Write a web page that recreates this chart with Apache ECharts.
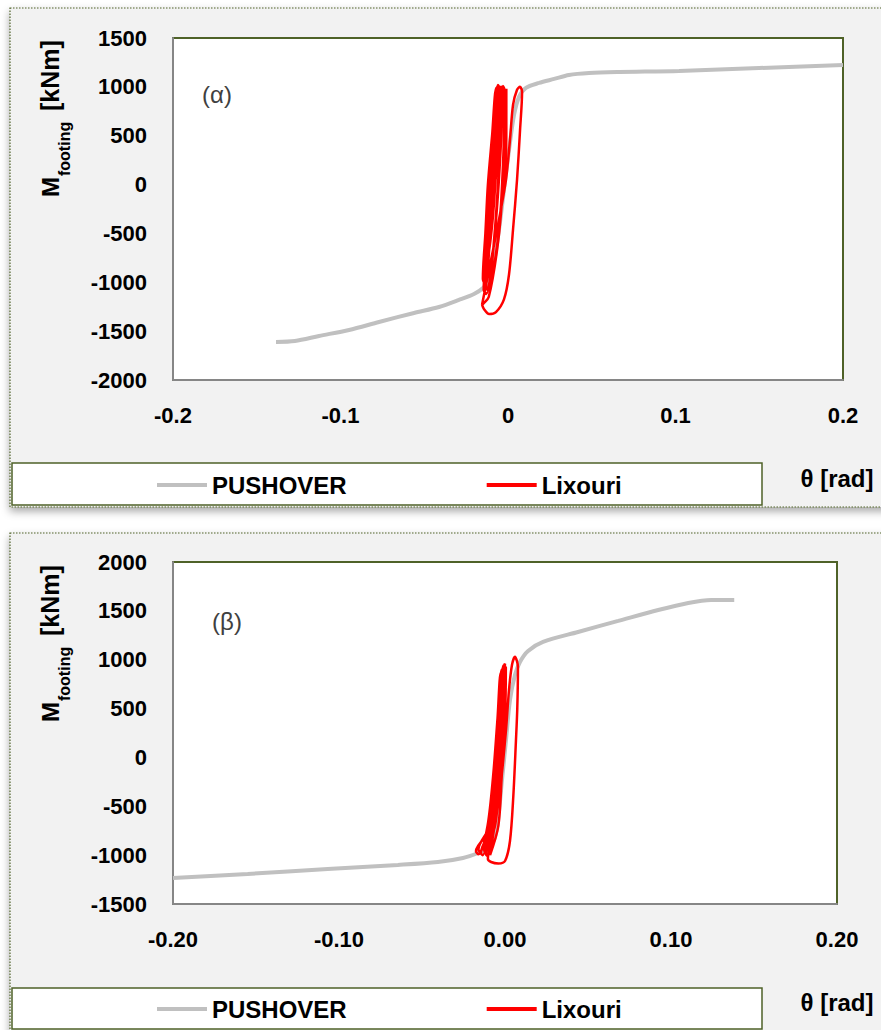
<!DOCTYPE html>
<html>
<head>
<meta charset="utf-8">
<script src="https://cdn.jsdelivr.net/npm/echarts/dist/echarts.min.js"></script>
<style>
  html, body { margin: 0; padding: 0; background: #ffffff; }
  #chart { width: 881px; height: 1030px; }
</style>
</head>
<body>
<div id="chart"></div>
<script>
// Footing moment–rotation response: pushover envelope vs. Lixouri record time history

// ---- tick labels ----
const xTickValues = [-0.2, -0.1, 0, 0.1, 0.2];
const xTickLabelsA = ['-0.2', '-0.1', '0', '0.1', '0.2'];
const xTickLabelsB = ['-0.20', '-0.10', '0.00', '0.10', '0.20'];
const yTicksA = [-2000, -1500, -1000, -500, 0, 500, 1000, 1500];
const yTicksB = [-1500, -1000, -500, 0, 500, 1000, 1500, 2000];
const seriesNames = ['PUSHOVER', 'Lixouri'];
const panelTags = ['(α)', '(β)'];

// ---- panel (α): [θ rad, M kNm] ----
const pushoverA = [
  [-0.1385, -1610], [-0.1272, -1600], [-0.1128, -1549], [-0.0949, -1488],
  [-0.0770, -1406], [-0.0561, -1314], [-0.0412, -1253], [-0.0293, -1181],
  [-0.0203, -1120], [-0.0149, -1058], [-0.0113, -976], [-0.0084, -792],
  [-0.0054, -465], [-0.0024, -55], [0.0006, 354], [0.0036, 712],
  [0.0066, 897], [0.0107, 989], [0.0185, 1040], [0.0275, 1081],
  [0.0364, 1122], [0.0484, 1142], [0.0663, 1152], [0.1021, 1163],
  [0.1499, 1193], [0.2000, 1224]
];
const lixouriA = [
  [-0.002, 0], [-0.001, 500], [-0.001, 980],
  [-0.002, 700], [-0.003, 200], [-0.005, -400], [-0.009, -900], [-0.012, -1080],
  [-0.013, -1040], [-0.011, -600], [-0.009, -100], [-0.006, 500], [-0.004, 1000],
  [-0.003, 950], [-0.004, 500], [-0.006, -100], [-0.009, -700], [-0.013, -1120],
  [-0.0145, -1080], [-0.013, -600], [-0.0115, -100], [-0.009, 500], [-0.006, 1020],
  [-0.005, 980], [-0.006, 500], [-0.008, -100], [-0.010, -500], [-0.0125, -760],
  [-0.0135, -720], [-0.0125, -300], [-0.0105, 200], [-0.0075, 700], [-0.005, 1000],
  [-0.004, 990], [-0.005, 500], [-0.008, -50], [-0.0115, -600], [-0.0145, -1000],
  [-0.015, -960], [-0.0135, -500], [-0.012, 0], [-0.0095, 500], [-0.007, 990],
  [-0.006, 950], [-0.007, 500], [-0.0095, 0], [-0.012, -500], [-0.014, -850],
  [-0.0135, -820], [-0.0115, -400], [-0.0095, 100], [-0.0075, 500], [-0.0055, 1000],
  [-0.004, 960], [-0.0045, 500], [-0.006, 0], [-0.008, -500], [-0.011, -950],
  [-0.012, -920], [-0.0105, -500], [-0.0085, 0], [-0.0065, 500], [-0.003, 1010],
  [-0.002, 960], [-0.002, 500], [-0.003, 0], [-0.006, -600], [-0.0115, -1150],
  [-0.0155, -1230], [-0.0113, -870], [-0.0054, -360], [-0.0012, 50], [0.0012, 460],
  [0.0030, 815], [0.0054, 970], [0.0072, 1000], [0.0084, 950], [0.0072, 560],
  [0.0054, 50], [0.0030, -460], [0.0006, -920], [-0.0024, -1175], [-0.0072, -1305],
  [-0.0113, -1325], [-0.0143, -1275], [-0.0155, -1230]
];

// ---- panel (β): [θ rad, M kNm] ----
const pushoverB = [
  [-0.2000, -1233], [-0.1550, -1192], [-0.1068, -1141], [-0.0645, -1100],
  [-0.0404, -1070], [-0.0253, -1029], [-0.0163, -978], [-0.0103, -927],
  [-0.0066, -845], [-0.0042, -640], [-0.0018, -230], [0.0006, 178],
  [0.0030, 588], [0.0060, 844], [0.0090, 977], [0.0139, 1090],
  [0.0229, 1182], [0.0440, 1284], [0.0682, 1397], [0.0923, 1509],
  [0.1104, 1581], [0.1242, 1611], [0.1381, 1611]
];
const lixouriB = [
  [-0.001, 0], [0.000, 450], [0.0005, 880],
  [-0.0005, 850], [-0.001, 400], [-0.003, -200], [-0.007, -700], [-0.0175, -960],
  [-0.016, -990], [-0.010, -700], [-0.0065, -200], [-0.004, 400], [-0.002, 900],
  [-0.001, 870], [-0.002, 400], [-0.004, -200], [-0.008, -700], [-0.0145, -980],
  [-0.0135, -1000], [-0.009, -700], [-0.006, -200], [-0.0035, 400], [-0.001, 940],
  [0.000, 900], [-0.001, 400], [-0.003, -200], [-0.006, -700], [-0.0115, -990],
  [-0.0105, -1010], [-0.0075, -700], [-0.005, -200], [-0.002, 400], [0.000, 960],
  [-0.001, 920], [-0.0025, 400], [-0.005, -200], [-0.009, -700], [-0.016, -940],
  [-0.015, -970], [-0.0105, -700], [-0.0072, -200], [-0.0045, 400], [-0.0025, 870],
  [-0.0015, 850], [-0.003, 400], [-0.0055, -200], [-0.0085, -650], [-0.0125, -950],
  [-0.012, -970], [-0.0085, -700], [-0.0055, -200], [-0.003, 400], [-0.0005, 930],
  [0.0005, 920], [0.000, 400], [-0.002, -200], [-0.004, -700], [-0.009, -1000],
  [-0.0072, -800], [-0.003, -340], [0.0006, 280], [0.0024, 690], [0.0042, 945],
  [0.0060, 1030], [0.0078, 925], [0.0074, 500], [0.0066, 175], [0.0050, -400],
  [0.0030, -855], [0.0000, -1060], [-0.0040, -1085], [-0.0084, -1070],
  [-0.0103, -1040], [-0.0080, -800], [-0.0050, -400], [-0.0030, 0]
];

const FONT = '"Liberation Sans", Arial, sans-serif';
const GREEN = '#4f6228';
const AXIS_GRAY = '#868686';
const PUSH_GRAY = '#c0c0c0';
const RED = '#ff0000';

function xFormatter(labels) {
  return function (v) {
    for (let i = 0; i < xTickValues.length; i++) {
      if (Math.abs(xTickValues[i] - v) < 1e-9) return labels[i];
    }
    return '';
  };
}

function xAxisFor(gridIndex, labels) {
  return {
    type: 'value', gridIndex: gridIndex, min: -0.2, max: 0.2, interval: 0.1,
    axisLine: { show: true, onZero: false, lineStyle: { color: AXIS_GRAY, width: 2 } },
    axisTick: { show: false }, splitLine: { show: false },
    axisLabel: { formatter: xFormatter(labels), margin: 24, color: '#000',
      fontSize: 22, fontWeight: 'bold', fontFamily: FONT }
  };
}

function yAxisFor(gridIndex, ticks) {
  return {
    type: 'value', gridIndex: gridIndex,
    min: ticks[0], max: ticks[ticks.length - 1], interval: 500,
    axisLine: { show: true, onZero: false, lineStyle: { color: AXIS_GRAY, width: 2 } },
    axisTick: { show: false }, splitLine: { show: false },
    axisLabel: { formatter: function (v) { return String(v); }, margin: 26, color: '#000',
      fontSize: 22, fontWeight: 'bold', fontFamily: FONT }
  };
}

function legendFor(top) {
  return {
    left: 152, top: top, itemWidth: 50, itemHeight: 4, itemGap: 140,
    data: [{ name: seriesNames[0], icon: 'rect' }, { name: seriesNames[1], icon: 'rect' }],
    textStyle: { fontSize: 24, fontWeight: 'bold', fontFamily: FONT, color: '#000' },
    selectedMode: false
  };
}

// rotated y-axis title "M_footing [kNm]" and the panel tag
function panelTexts(dy, tag, tagX, tagY) {
  return [
    { type: 'text', x: 50, y: 197 + dy, rotation: Math.PI / 2, silent: true,
      style: { text: 'M', font: 'bold 24px ' + FONT, fill: '#000', textAlign: 'left',
        textVerticalAlign: 'middle', verticalAlign: 'middle' } },
    { type: 'text', x: 64, y: 176 + dy, rotation: Math.PI / 2, silent: true,
      style: { text: 'footing', font: 'bold 16px ' + FONT, fill: '#000', textAlign: 'left',
        textVerticalAlign: 'middle', verticalAlign: 'middle' } },
    { type: 'text', x: 50, y: 111 + dy, rotation: Math.PI / 2, silent: true,
      style: { text: '[kNm]', font: 'bold 25px ' + FONT, fill: '#000', textAlign: 'left',
        textVerticalAlign: 'middle', verticalAlign: 'middle' } },
    { type: 'text', x: tagX, y: tagY, silent: true,
      style: { text: tag, font: '24px ' + FONT, fill: '#404040', textAlign: 'center',
        textVerticalAlign: 'middle', verticalAlign: 'middle' } }
  ];
}

const chart = echarts.init(document.getElementById('chart'), null, { renderer: 'svg' });

const option = {
  animation: false,
  backgroundColor: '#ffffff',
  graphic: [
    // panel backgrounds
    { type: 'rect', z: -10, silent: true, shape: { x: 10, y: 8, width: 880, height: 499 },
      style: { fill: '#f2f2f2', stroke: GREEN, lineWidth: 1.2, lineDash: [1.5, 1.5],
        shadowBlur: 8, shadowOffsetY: 4, shadowColor: 'rgba(0,0,0,0.35)' } },
    { type: 'rect', z: -10, silent: true, shape: { x: 10, y: 533, width: 880, height: 520 },
      style: { fill: '#f2f2f2', stroke: GREEN, lineWidth: 1.2, lineDash: [1.5, 1.5],
        shadowBlur: 8, shadowOffsetY: 4, shadowColor: 'rgba(0,0,0,0.35)' } },
    // legend frames
    { type: 'rect', z: -5, silent: true, shape: { x: 12, y: 463, width: 750, height: 42 },
      style: { fill: '#ffffff', stroke: GREEN, lineWidth: 1.5 } },
    { type: 'rect', z: -5, silent: true, shape: { x: 12, y: 988, width: 750, height: 41 },
      style: { fill: '#ffffff', stroke: GREEN, lineWidth: 1.5 } },
    // θ axis titles
    { type: 'text', x: 837, y: 478, silent: true,
      style: { text: 'θ [rad]', font: 'bold 24px ' + FONT, fill: '#000', textAlign: 'center',
        textVerticalAlign: 'middle', verticalAlign: 'middle' } },
    { type: 'text', x: 837, y: 1002, silent: true,
      style: { text: 'θ [rad]', font: 'bold 24px ' + FONT, fill: '#000', textAlign: 'center',
        textVerticalAlign: 'middle', verticalAlign: 'middle' } }
  ].concat(panelTexts(0, panelTags[0], 217, 94), panelTexts(525, panelTags[1], 227, 621)),
  legend: [legendFor(468), legendFor(992)],
  grid: [
    { left: 173, top: 38, width: 670, height: 342, show: true, backgroundColor: '#ffffff',
      borderColor: GREEN, borderWidth: 2 },
    { left: 173, top: 562, width: 664, height: 342, show: true, backgroundColor: '#ffffff',
      borderColor: GREEN, borderWidth: 2 }
  ],
  xAxis: [xAxisFor(0, xTickLabelsA), xAxisFor(1, xTickLabelsB)],
  yAxis: [yAxisFor(0, yTicksA), yAxisFor(1, yTicksB)],
  series: [
    { name: seriesNames[0], type: 'line', xAxisIndex: 0, yAxisIndex: 0, data: pushoverA,
      showSymbol: false, smooth: 0.3, color: PUSH_GRAY, lineStyle: { color: PUSH_GRAY, width: 4 } },
    { name: seriesNames[1], type: 'line', xAxisIndex: 0, yAxisIndex: 0, data: lixouriA,
      showSymbol: false, smooth: 0.3, color: RED, lineStyle: { color: RED, width: 2.5 } },
    { name: seriesNames[0], type: 'line', xAxisIndex: 1, yAxisIndex: 1, data: pushoverB,
      showSymbol: false, smooth: 0.3, color: PUSH_GRAY, lineStyle: { color: PUSH_GRAY, width: 4 } },
    { name: seriesNames[1], type: 'line', xAxisIndex: 1, yAxisIndex: 1, data: lixouriB,
      showSymbol: false, smooth: 0.3, color: RED, lineStyle: { color: RED, width: 2.5 } }
  ]
};

chart.setOption(option);
</script>
</body>
</html>
